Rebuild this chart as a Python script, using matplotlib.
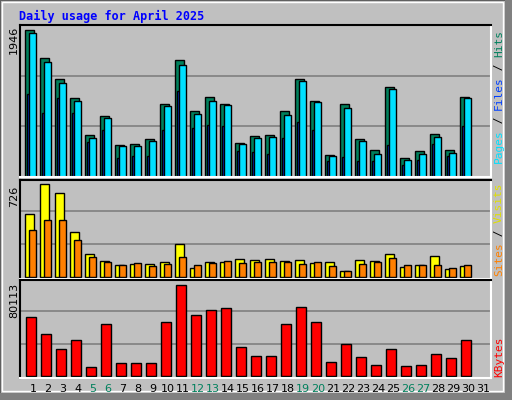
import matplotlib.pyplot as plt
import numpy as np
from matplotlib.patches import Rectangle

days = np.arange(1, 32)
weekend = [5, 6, 12, 13, 19, 20, 26, 27]

hits = [1946, 1575, 1297, 1046, 556, 808, 424, 437, 503, 966, 1549, 874, 1059, 966, 450,
        543, 556, 874, 1297, 1006, 291, 966, 503, 357, 1191, 251, 344, 569, 357, 1059, 0]
files = [1906, 1522, 1244, 1006, 516, 781, 410, 410, 476, 940, 1482, 834, 1006, 953, 437,
         516, 529, 821, 1271, 993, 278, 913, 476, 304, 1165, 225, 304, 529, 318, 1046, 0]
pages = [1099, 847, 1046, 847, 463, 622, 251, 278, 278, 622, 1138, 649, 688, 675, 344,
         331, 304, 516, 728, 622, 212, 265, 212, 212, 424, 159, 225, 437, 278, 675, 0]
visits = [490, 726, 655, 348, 176, 123, 92, 100, 97, 113, 254, 66, 113, 113, 136,
          131, 136, 121, 128, 105, 113, 42, 128, 121, 176, 73, 89, 160, 58, 84, 0]
sites = [364, 443, 443, 286, 152, 113, 92, 105, 84, 97, 152, 89, 105, 121, 105,
         113, 113, 113, 97, 113, 81, 42, 97, 113, 144, 89, 89, 89, 66, 89, 0]
kbytes = [52047, 37135, 23977, 31872, 8187, 45907, 11696, 11696, 11696, 47661, 80113,
          53802, 58188, 59942, 25731, 17836, 17836, 45907, 60819, 47661, 12573, 28363,
          16959, 9942, 23977, 9064, 9942, 19591, 16082, 31872, 0]

C_HITS, C_FILES, C_PAGES = '#00805c', '#00e0ff', '#0040ff'
C_VISITS, C_SITES, C_KB = '#ffff00', '#ff8000', '#ff0000'
BG = '#c0c0c0'
mono = 'DejaVu Sans Mono'

W, H = 512, 400
fig = plt.figure(figsize=(5.12, 4.0), dpi=100, facecolor=BG)

# outer 3D frame
fig.patches.append(Rectangle((0, 0), 1, 1, transform=fig.transFigure, fill=False,
                             ec='#606060', lw=1.5))
fig.patches.append(Rectangle((505 / W, 0), 7 / W, 1, transform=fig.transFigure, fc='#808080', ec='none'))
fig.patches.append(Rectangle((0, 0), 1, 7 / H, transform=fig.transFigure, fc='#808080', ec='none'))
fig.patches.append(Rectangle((2 / W, 9 / H), 501 / W, 389 / H, transform=fig.transFigure,
                             fill=False, ec='white', lw=1))

fig.text(19 / W, 1 - 16 / H, 'Daily usage for April 2025', color='#0000ff',
         fontfamily=mono, fontweight='bold', fontsize=8.5, va='center')


def make_ax(top, bottom):
    ax = fig.add_axes([20 / W, 1 - bottom / H, 471 / W, (bottom - top) / H])
    ax.set_facecolor(BG)
    ax.set_xlim((20 - 18) / 15, (491 - 18) / 15)
    ax.set_xticks([])
    ax.set_yticks([])
    for s in ['left', 'top']:
        ax.spines[s].set_color('black')
    for s in ['right', 'bottom']:
        ax.spines[s].set_color('white')
    for s in ax.spines.values():
        s.set_linewidth(1.5)
    return ax


def add_grid(ax, ymax):
    for f in (1 / 3, 2 / 3):
        ax.axhline(ymax * f, color='#808080', lw=1.2, zorder=0)


def bars(ax, offset, vals, width, color):
    v = np.array(vals)
    m = v > 0
    ax.bar(days[m] + offset, v[m], width=width, color=color,
           edgecolor='black', linewidth=1, align='edge')


# panel 1
ax1 = make_ax(25, 177)
ym1 = max(hits) * 151 / 146.5
ax1.set_ylim(0, ym1)
add_grid(ax1, ym1)
bars(ax1, -0.53, hits, 0.6, C_HITS)
bars(ax1, -0.4, pages, 0.13, C_PAGES)
bars(ax1, -0.27, files, 0.47, C_FILES)
fig.text(14 / W, 1 - 40 / H, str(max(hits)), rotation=90, fontsize=8, ha='center', va='center')

# panel 2
ax2 = make_ax(180, 279)
ym2 = max(visits) * 99 / 92.4
ax2.set_ylim(-max(visits) * 2.3 / 92.4, ym2 - max(visits) * 2.3 / 92.4)
add_grid(ax2, ym2)
bars(ax2, -0.53, visits, 0.6, C_VISITS)
bars(ax2, -0.27, sites, 0.47, C_SITES)
fig.text(14 / W, 1 - 196 / H, str(max(visits)), rotation=90, fontsize=8, ha='center', va='center')

# panel 3
ax3 = make_ax(280, 378)
ym3 = max(kbytes) * 98 / 91.3
ax3.set_ylim(-max(kbytes) * 1.7 / 91.3, ym3 - max(kbytes) * 1.7 / 91.3)
add_grid(ax3, ym3)
bars(ax3, -0.47, kbytes, 0.67, C_KB)
fig.text(14 / W, 1 - 300 / H, str(max(kbytes)), rotation=90, fontsize=8, ha='center', va='center')

for d in days:
    fig.text((18 + 15 * d) / W, 1 - 389 / H, str(d), ha='center', va='center', fontsize=8,
             color=C_HITS if d in weekend else 'black')


def side_label(y, parts):
    # parts drawn bottom to top
    pos = y
    for txt, col in parts:
        fig.text(499 / W, pos / H, txt, rotation=90, color=col, fontfamily=mono,
                 fontsize=8, ha='center', va='bottom')
        pos += len(txt) * 6.6


side_label(400 - 163, [('Pages', C_FILES), (' / ', 'black'), ('Files', C_PAGES),
                       (' / ', 'black'), ('Hits', C_HITS)])
side_label(400 - 276, [('Sites', C_SITES), (' / ', 'black'), ('Visits', '#e0e000')])
side_label(400 - 377, [('KBytes', C_KB)])

fig.savefig('out.png', dpi=100, facecolor=BG)
